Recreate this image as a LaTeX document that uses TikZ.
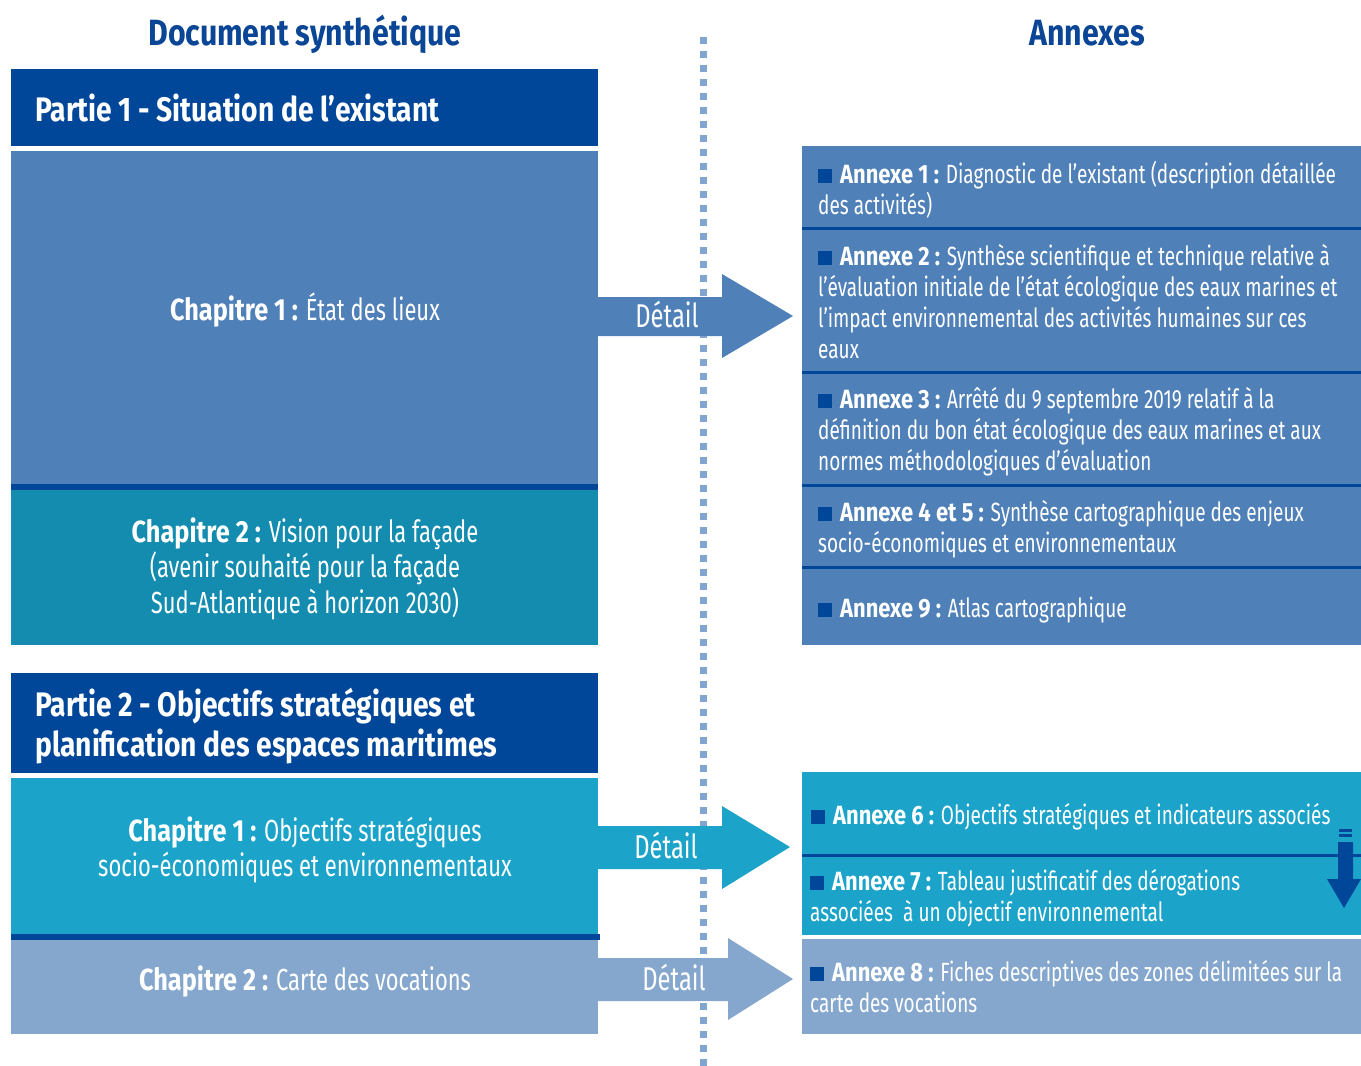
\documentclass[tikz,border=0pt]{standalone}
\usepackage{fontspec}
\setmainfont[FakeStretch=0.72,BoldFeatures={FakeStretch=0.83}]{Fira Sans}
\definecolor{dblue}{HTML}{00479A}
\definecolor{mblue}{HTML}{4F80B8}
\definecolor{tealb}{HTML}{138CB0}
\definecolor{cyanb}{HTML}{1BA3C9}
\definecolor{lblue}{HTML}{85A7CD}
\definecolor{dotc}{HTML}{7FA5D0}
\definecolor{titc}{HTML}{0A4596}
\newcommand{\bul}{\textcolor{dblue}{\rule{14pt}{14pt}}\hspace{8pt}}
\tikzset{
  ttl/.style={text=titc, font=\fontsize{36.5}{40}\selectfont\bfseries, inner sep=0, anchor=base},
  part/.style={text=white, font=\fontsize{34}{40}\selectfont\bfseries, inner sep=0, anchor=base west},
  chap/.style={text=white, inner sep=0, anchor=base},
  annex/.style={text=white, inner sep=0, anchor=base west},
  detail/.style={text=white, font=\fontsize{33}{36}\selectfont, inner sep=0, anchor=base},
  sep/.style={draw=dblue, line width=3pt},
}
\newcommand{\chapfont}{\fontsize{30.5}{35.5}\selectfont}
\newcommand{\annfont}{\fontsize{26.4}{31}\selectfont}
\begin{document}
\begin{tikzpicture}[x=1pt,y=-1pt]
\useasboundingbox (0,0) rectangle (1361,1066);
\fill[white] (0,0) rectangle (1361,1066);

% titles
\node[ttl] (tdoc) at (305,45) {Document synthétique};
\node[ttl] (tann) at (1087,45) {Annexes};

% dotted separator
\coordinate (dtop) at (703,37);
\coordinate (dbot) at (703,1066);
\draw[dotc, line width=7pt, dash pattern=on 7pt off 7pt] (dtop) -- (dbot);

% left column boxes
\fill[dblue] (11,69) rectangle (598,146);
\fill[mblue] (11,151) rectangle (598,484);
\fill[dblue] (11,484) rectangle (598,490);
\fill[tealb] (11,490) rectangle (598,645);

\fill[dblue] (11,673) rectangle (598,773);
\fill[cyanb] (11,778) rectangle (598,934);
\fill[dblue] (11,934) rectangle (600,940);
\fill[lblue] (11,940) rectangle (598,1034);

% right column boxes
\fill[mblue] (802,146) rectangle (1361,645);
\draw[sep] (802,228) -- (1361,228);
\draw[sep] (802,372) -- (1361,372);
\draw[sep] (802,485) -- (1361,485);
\draw[sep] (802,567) -- (1361,567);

\fill[cyanb] (802,772) rectangle (1361,935);
\draw[sep] (802,855) -- (1361,855);
\fill[lblue] (802,939) rectangle (1361,1034);

% detail arrows
\fill[mblue] (598,297) -- (722,297) -- (722,274) -- (793,316) -- (722,358) -- (722,336) -- (598,336) -- cycle;
\fill[cyanb] (598,826) -- (722,826) -- (722,806) -- (790,847) -- (722,889) -- (722,869) -- (598,869) -- cycle;
\fill[lblue] (598,958) -- (728,958) -- (728,938) -- (793,979) -- (728,1020) -- (728,1001) -- (598,1001) -- cycle;

\node[detail] (d1) at (667,327) {Détail};
\node[detail] (d2) at (666,858) {Détail};
\node[detail] (d3) at (674,990) {Détail};

% small down arrow
\fill[dblue] (1339,829) rectangle (1352,832);
\fill[dblue] (1339,834) rectangle (1352,837);
\fill[dblue] (1338,842) -- (1353,842) -- (1353,879) -- (1361,879) -- (1344,908) -- (1327,879) -- (1338,879) -- cycle;

% left texts
\node[part] (p1) at (35,121) {Partie 1 - Situation de l’existant};
\node[chap] (c11) at (305,320) {\chapfont\textbf{Chapitre 1 :} État des lieux};
\node[chap] (c12) at (305,542) {\parbox[t]{580pt}{\chapfont\centering\textbf{Chapitre 2 :} Vision pour la façade\\(avenir souhaité pour la façade\\Sud-Atlantique à horizon 2030)}};
\node[part] (p2) at (35,716) {\parbox[t]{560pt}{\fontsize{34}{40}\selectfont\bfseries Partie 2 - Objectifs stratégiques et\\planification des espaces maritimes}};
\node[chap] (c21) at (305,841) {\parbox[t]{580pt}{\chapfont\centering\textbf{Chapitre 1 :} Objectifs stratégiques\\socio-économiques et environnementaux}};
\node[chap] (c22) at (305,990) {\chapfont\textbf{Chapitre 2 :} Carte des vocations};

% annex texts
\node[annex] (a1) at (818,183) {\parbox[t]{545pt}{\annfont\raggedright\bul\textbf{Annexe 1 :} Diagnostic de l’existant (description détaillée\\des activités)}};
\node[annex] (a2) at (818,265) {\parbox[t]{545pt}{\annfont\raggedright\bul\textbf{Annexe 2 :} Synthèse scientifique et technique relative à\\l’évaluation initiale de l’état écologique des eaux marines et\\l’impact environnemental des activités humaines sur ces\\eaux}};
\node[annex] (a3) at (818,408) {\parbox[t]{545pt}{\annfont\raggedright\bul\textbf{Annexe 3 :} Arrêté du 9 septembre 2019 relatif à la\\définition du bon état écologique des eaux marines et aux\\normes méthodologiques d’évaluation}};
\node[annex] (a45) at (818,521) {\parbox[t]{545pt}{\annfont\raggedright\bul\textbf{Annexe 4 et 5 :} Synthèse cartographique des enjeux\\socio-économiques et environnementaux}};
\node[annex] (a9) at (818,617) {\annfont\bul\textbf{Annexe 9 :} Atlas cartographique};
\node[annex] (a6) at (811,824) {\annfont\bul\textbf{Annexe 6 :} Objectifs stratégiques et indicateurs associés};
\node[annex] (a7) at (810,890) {\parbox[t]{545pt}{\annfont\raggedright\bul\textbf{Annexe 7 :} Tableau justificatif des dérogations\\associées ~à un objectif environnemental}};
\node[annex] (a8) at (810,981) {\parbox[t]{545pt}{\annfont\raggedright\bul\textbf{Annexe 8 :} Fiches descriptives des zones délimitées sur la\\carte des vocations}};
\end{tikzpicture}
\end{document}
